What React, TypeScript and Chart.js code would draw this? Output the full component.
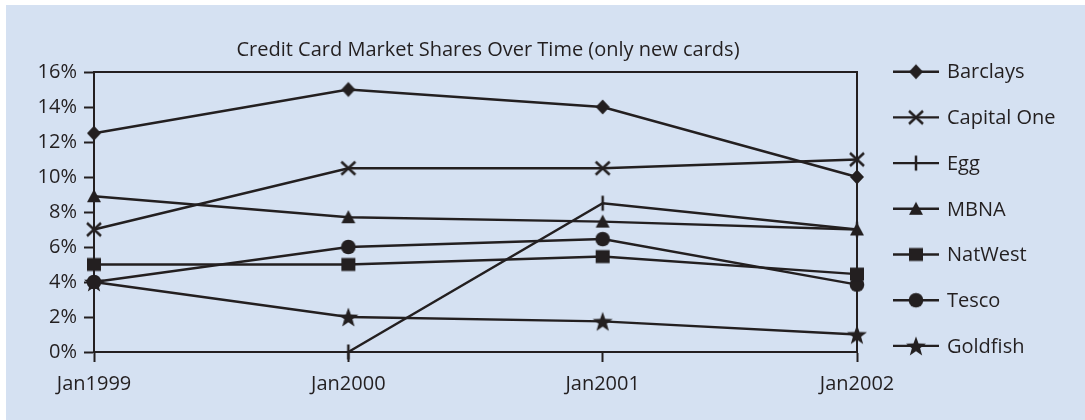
import React, { useEffect, useRef } from "react";
import { Chart, registerables } from "chart.js";

Chart.register(...registerables);

// ---- data ----
const categories = ["Jan1999", "Jan2000", "Jan2001", "Jan2002"];
const seriesNames = ["Barclays", "Capital One", "Egg", "MBNA", "NatWest", "Tesco", "Goldfish"];
const barclays = [12.5, 15, 14, 10];
const capitalOne = [7, 10.5, 10.5, 11];
const egg = [null, 0, 8.5, 7];
const mbna = [8.9, 7.7, 7.45, 7.0];
const natWest = [5, 5, 5.45, 4.45];
const tesco = [4, 6, 6.45, 3.85];
const goldfish = [4, 2, 1.75, 1.0];
const markerKinds = ["diamond", "cross", "vline", "triangle", "square", "circle", "star"];
const yMin = 0;
const yMax = 16;
const yStep = 2;
const titleText = "Credit Card Market Shares Over Time (only new cards)";

// ---- style ----
const W = 1085;
const H = 420;
const INK = "#231f20";
const BG = "#d5e1f2";
const FONT_FAMILY = "'Open Sans', 'DejaVu Sans', sans-serif";
const FONT_SIZE = 20;

function makeMarker(kind: string): HTMLCanvasElement {
  const c = document.createElement("canvas");
  c.width = 26;
  c.height = 26;
  const g = c.getContext("2d")!;
  const cx = 13;
  const cy = 13;
  g.fillStyle = INK;
  g.strokeStyle = INK;
  g.lineCap = "butt";
  g.beginPath();
  if (kind === "diamond") {
    g.moveTo(cx, cy - 7.5);
    g.lineTo(cx + 7, cy);
    g.lineTo(cx, cy + 7.5);
    g.lineTo(cx - 7, cy);
    g.closePath();
    g.fill();
  } else if (kind === "cross") {
    g.lineWidth = 2.5;
    g.moveTo(cx - 7, cy - 6.5);
    g.lineTo(cx + 7, cy + 6.5);
    g.moveTo(cx + 7, cy - 6.5);
    g.lineTo(cx - 7, cy + 6.5);
    g.stroke();
  } else if (kind === "vline") {
    g.lineWidth = 2.5;
    g.moveTo(cx, cy - 7.5);
    g.lineTo(cx, cy + 7.5);
    g.stroke();
  } else if (kind === "triangle") {
    g.moveTo(cx, cy - 7);
    g.lineTo(cx + 7, cy + 6);
    g.lineTo(cx - 7, cy + 6);
    g.closePath();
    g.fill();
  } else if (kind === "square") {
    g.rect(cx - 7, cy - 6.5, 14, 13);
    g.fill();
  } else if (kind === "circle") {
    g.arc(cx, cy, 7.3, 0, Math.PI * 2);
    g.fill();
  } else if (kind === "star") {
    const R = 10.5;
    const r = 4.3;
    for (let i = 0; i < 10; i++) {
      const ang = -Math.PI / 2 + (i * Math.PI) / 5;
      const rad = i % 2 === 0 ? R : r;
      const x = cx + rad * Math.cos(ang);
      const y = cy + 1 + rad * Math.sin(ang);
      if (i === 0) g.moveTo(x, y);
      else g.lineTo(x, y);
    }
    g.closePath();
    g.fill();
  }
  return c;
}

const decorPlugin = {
  id: "decor",
  beforeDraw(chart: any) {
    const ctx = chart.ctx;
    ctx.save();
    ctx.fillStyle = "#ffffff";
    ctx.fillRect(0, 0, W, H);
    ctx.fillStyle = BG;
    ctx.fillRect(6, 5, W - 6, H - 5);
    ctx.restore();
  },
  beforeDatasetsDraw(chart: any) {
    const { ctx, chartArea: a } = chart;
    ctx.save();
    ctx.strokeStyle = INK;
    ctx.lineWidth = 2;
    ctx.beginPath();
    ctx.moveTo(Math.round(a.left), Math.round(a.top));
    ctx.lineTo(Math.round(a.right), Math.round(a.top));
    ctx.lineTo(Math.round(a.right), Math.round(a.bottom));
    ctx.stroke();
    ctx.restore();
  },
  afterDraw(chart: any) {
    const ctx = chart.ctx;
    ctx.save();
    ctx.fillStyle = INK;
    ctx.font = `${FONT_SIZE}px ${FONT_FAMILY}`;
    ctx.textAlign = "center";
    ctx.textBaseline = "alphabetic";
    ctx.fillText(titleText, 488, 56);

    // legend
    ctx.textAlign = "left";
    ctx.textBaseline = "middle";
    chart.data.datasets.forEach((ds: any, i: number) => {
      const y = 71.7 + i * 45.7;
      ctx.strokeStyle = INK;
      ctx.lineWidth = 2.4;
      ctx.beginPath();
      ctx.moveTo(893, y);
      ctx.lineTo(939, y);
      ctx.stroke();
      const img = ds.pointStyle as HTMLCanvasElement;
      ctx.drawImage(img, 916 - img.width / 2, y - img.height / 2);
      ctx.fillStyle = INK;
      ctx.fillText(ds.label, 947, y + 1);
    });
    ctx.restore();
  },
};

export default function App() {
  const ref = useRef<HTMLCanvasElement | null>(null);

  useEffect(() => {
    if (!ref.current) return;
    const values = [barclays, capitalOne, egg, mbna, natWest, tesco, goldfish];
    const font = { family: FONT_FAMILY, size: FONT_SIZE };
    const chart = new Chart(ref.current, {
      type: "line",
      data: {
        labels: categories,
        datasets: values.map((v, i) => ({
          label: seriesNames[i],
          data: v,
          borderColor: INK,
          backgroundColor: INK,
          borderWidth: 2.5,
          pointStyle: makeMarker(markerKinds[i]) as any,
          pointRadius: 7,
          tension: 0,
          clip: false as any,
          spanGaps: false,
        })),
      },
      options: {
        responsive: false,
        animation: false,
        devicePixelRatio: 1,
        layout: { padding: { left: 34, right: 228, top: 72, bottom: 18 } },
        plugins: {
          legend: { display: false },
          title: { display: false },
          tooltip: { enabled: false },
        },
        scales: {
          x: {
            type: "category",
            offset: false,
            grid: {
              drawOnChartArea: false,
              drawTicks: true,
              tickLength: 10,
              tickWidth: 2,
              tickColor: INK,
            },
            border: { display: true, color: INK, width: 2 },
            ticks: {
              color: INK,
              font,
              padding: 10,
              maxRotation: 0,
              autoSkip: false,
            },
            afterFit: (s: any) => {
              s.height = 50;
            },
          },
          y: {
            min: yMin,
            max: yMax,
            grid: {
              drawOnChartArea: false,
              drawTicks: true,
              tickLength: 10,
              tickWidth: 2,
              tickColor: INK,
            },
            border: { display: true, color: INK, width: 2 },
            ticks: {
              stepSize: yStep,
              color: INK,
              font,
              padding: 7,
              callback: (v: any) => `${v}%`,
            },
            afterFit: (s: any) => {
              s.width = 60;
            },
          },
        },
      },
      plugins: [decorPlugin],
    });
    return () => chart.destroy();
  }, []);

  return (
    <div style={{ position: "absolute", left: 0, top: 0, width: W, height: H }}>
      <canvas ref={ref} width={W} height={H} style={{ display: "block" }} />
    </div>
  );
}
